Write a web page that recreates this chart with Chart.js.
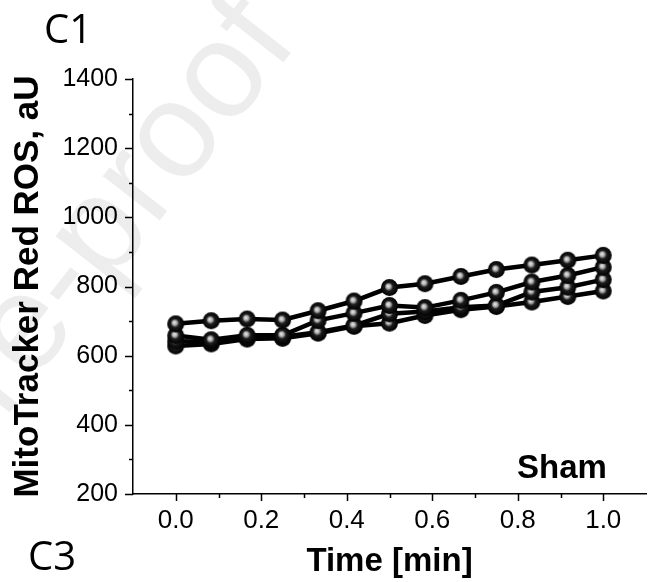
<!DOCTYPE html>
<html>
<head>
<meta charset="utf-8">
<script src="https://cdn.jsdelivr.net/npm/chart.js@4.4.1/dist/chart.umd.min.js"></script>
<style>
  html, body { margin: 0; padding: 0; background: #fff; }
  canvas { display: block; }
</style>
</head>
<body>
<canvas id="rosChart" width="650" height="582"></canvas>
<script>
// time points (min), 13 readings
const times = [0, 0.083, 0.167, 0.25, 0.333, 0.417, 0.5, 0.583, 0.667, 0.75, 0.833, 0.917, 1.0];

// MitoTracker Red ROS, aU - four sham traces
const shamA = [692, 701, 706, 703, 730, 758, 797, 808, 829, 849, 862, 876, 890];
const shamB = [658, 646, 659, 659, 702, 723, 745, 739, 760, 783, 813, 832, 856];
const shamC = [642, 640, 652, 655, 668, 687, 721, 728, 740, 745, 784, 798, 820];
const shamD = [628, 634, 648, 650, 665, 685, 694, 716, 733, 742, 755, 771, 787];

const yTicks = [200, 400, 600, 800, 1000, 1200, 1400];
const xTicks = [0.0, 0.2, 0.4, 0.6, 0.8, 1.0];

const FONT = "'Liberation Sans', Arial, sans-serif";

// shiny black ball marker
function makeBall(r) {
  const c = document.createElement("canvas");
  c.width = c.height = r * 2 + 2;
  const g = c.getContext("2d");
  const cx = r + 1, cy = r + 1;
  const grad = g.createRadialGradient(cx - 1.5, cy - 1.5, 0, cx, cy, r);
  grad.addColorStop(0, "#f2f2f2");
  grad.addColorStop(0.28, "#a8a8a8");
  grad.addColorStop(0.5, "#1c1c1c");
  grad.addColorStop(1, "#000");
  g.fillStyle = grad;
  g.beginPath();
  g.arc(cx, cy, r, 0, Math.PI * 2);
  g.fill();
  return c;
}
const ball = makeBall(8.5);

function toPoints(vals) {
  return vals.map((v, i) => ({ x: times[i], y: v }));
}

// watermark + panel letters + "Sham"
const decorPlugin = {
  id: "decor",
  beforeDraw(chart) {
    const { ctx } = chart;
    ctx.save();
    ctx.translate(4, 420);
    ctx.rotate(-52 * Math.PI / 180);
    ctx.font = "137px " + FONT;
    ctx.fillStyle = "rgba(0,0,0,0.07)";
    ctx.textBaseline = "alphabetic";
    ctx.fillText("re-proof", 0, 0);
    ctx.restore();
  },
  afterDraw(chart) {
    const { ctx } = chart;
    ctx.save();
    ctx.fillStyle = "#000";
    ctx.textBaseline = "alphabetic";
    ctx.textAlign = "left";
    ctx.font = "40px 'Open Sans', 'Noto Sans', sans-serif";
    ctx.fillText("C1", 44, 43);
    ctx.fillText("C3", 28, 570);
    ctx.font = "bold 33px " + FONT;
    ctx.fillText("Sham", 517, 478);
    ctx.restore();
  }
};

// major / minor tick marks
const tickPlugin = {
  id: "tickMarks",
  afterDraw(chart) {
    const { ctx, scales } = chart;
    const x = scales.x, y = scales.y;
    ctx.save();
    ctx.strokeStyle = "#000";
    ctx.lineWidth = 1.5;
    ctx.beginPath();
    x.ticks.forEach(t => {
      if (t.value < -0.05 || t.value > 1.05) return;
      const px = Math.round(x.getPixelForValue(t.value)) + 0.5;
      const major = Math.round(t.value * 10) % 2 === 0;
      ctx.moveTo(px, x.top);
      ctx.lineTo(px, x.top + (major ? 7 : 4));
    });
    y.ticks.forEach(t => {
      const py = Math.round(y.getPixelForValue(t.value)) + 0.5;
      const major = t.value % 200 === 0;
      ctx.moveTo(y.right, py);
      ctx.lineTo(y.right - (major ? 8 : 4), py);
    });
    ctx.stroke();
    ctx.restore();
  }
};

const series = [shamA, shamB, shamC, shamD];

new Chart(document.getElementById("rosChart"), {
  type: "line",
  data: {
    datasets: series.map((s, i) => ({
      label: "Sham " + (i + 1),
      data: toPoints(s),
      borderColor: "#000",
      borderWidth: 4.5,
      pointStyle: ball,
      pointRadius: 8.5,
      tension: 0
    }))
  },
  options: {
    responsive: false,
    animation: false,
    layout: {
      autoPadding: false,
      padding: { top: 79, right: 4, left: 0, bottom: 0 }
    },
    plugins: {
      legend: { display: false },
      tooltip: { enabled: false }
    },
    scales: {
      x: {
        type: "linear",
        min: -0.1,
        max: 1.1,
        afterFit(scale) {
          scale.height = 88;
          scale.paddingLeft = 0;
          scale.paddingRight = 0;
        },
        ticks: {
          stepSize: 0.1,
          autoSkip: false,
          maxRotation: 0,
          padding: 0,
          color: "#000",
          font: { family: FONT, size: 26 },
          callback(v) {
            const hit = xTicks.find(t => Math.abs(t - v) < 1e-6);
            return hit === undefined ? "" : hit.toFixed(1);
          }
        },
        // grid hidden; tickLength only sets the label gap
        grid: { display: false, drawTicks: true, tickLength: 11 },
        border: { display: true, color: "#000", width: 1.5 },
        title: {
          display: true,
          text: "Time [min]",
          color: "#000",
          font: { family: FONT, size: 33, weight: "bold" },
          padding: { top: 3, bottom: 0 }
        }
      },
      y: {
        min: 200,
        max: 1400,
        afterFit(scale) { scale.width = 133; },
        ticks: {
          stepSize: 100,
          autoSkip: false,
          padding: 0,
          color: "#000",
          font: { family: FONT, size: 25 },
          callback(v) { return yTicks.includes(v) ? String(v) : ""; }
        },
        grid: { display: false, drawTicks: true, tickLength: 15 },
        border: { display: true, color: "#000", width: 1.5 },
        title: {
          display: true,
          text: "MitoTracker Red ROS, aU",
          color: "#000",
          font: { family: FONT, size: 35, weight: "bold" },
          padding: { top: 7, bottom: 0 }
        }
      }
    }
  },
  plugins: [decorPlugin, tickPlugin]
});
</script>
</body>
</html>
